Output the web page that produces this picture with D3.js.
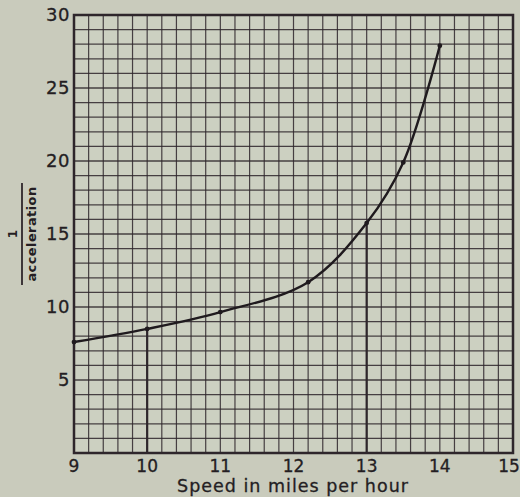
<!DOCTYPE html>
<html>
<head>
<meta charset="utf-8">
<script src="https://cdn.jsdelivr.net/npm/d3@7/dist/d3.min.js"></script>
<style>
  html, body { margin: 0; padding: 0; background: #c9cbbc; }
  svg { display: block; }
  text { font-family: "DejaVu Sans", sans-serif; fill: #241e23; }
</style>
</head>
<body>
<script>
// values
const speeds = [9, 10, 11, 12.2, 13, 13.5, 14];
const invAccel = [7.6, 8.5, 9.65, 11.7, 15.75, 19.9, 27.9];
const xTicks = [9, 10, 11, 12, 13, 14, 15];
const yTicks = [5, 10, 15, 20, 25, 30];
// speeds with a heavy drop line from the curve to the axis
const dropAt = [10, 13];

const width = 520;
const height = 497;
const margin = { top: 15, right: 7, bottom: 44, left: 74 };
const ink = '#2e262b';

const x = d3.scaleLinear().domain([9, 15]).range([margin.left, width - margin.right]);
const y = d3.scaleLinear().domain([0, 30]).range([height - margin.bottom, margin.top]);

const svg = d3.select('body').append('svg')
  .attr('width', width)
  .attr('height', height);

svg.append('rect')
  .attr('x', x(9)).attr('y', y(30))
  .attr('width', x(15) - x(9)).attr('height', y(0) - y(30))
  .attr('fill', '#ccd0c1');

// fine grid: 0.2 mph across, 1 unit up
const grid = svg.append('g').attr('stroke', ink).attr('stroke-opacity', 0.85);
grid.selectAll('.gx')
  .data(d3.range(1, 30).map(i => 9 + i * 0.2))
  .enter().append('line')
    .attr('x1', d => x(d)).attr('x2', d => x(d))
    .attr('y1', y(0)).attr('y2', y(30))
    .attr('stroke-width', 1.2);
grid.selectAll('.gy')
  .data(d3.range(1, 30))
  .enter().append('line')
    .attr('y1', d => y(d)).attr('y2', d => y(d))
    .attr('x1', x(9)).attr('x2', x(15))
    .attr('stroke-width', d => (d % 5 === 0 ? 1.7 : 1.2));

// drop lines
svg.selectAll('.drop')
  .data(dropAt)
  .enter().append('line')
    .attr('x1', d => x(d)).attr('x2', d => x(d))
    .attr('y1', d => y(invAccel[speeds.indexOf(d)]))
    .attr('y2', y(0))
    .attr('stroke', ink)
    .attr('stroke-width', 2.2);

// frame
svg.append('rect')
  .attr('x', x(9)).attr('y', y(30))
  .attr('width', x(15) - x(9)).attr('height', y(0) - y(30))
  .attr('fill', 'none')
  .attr('stroke', ink)
  .attr('stroke-width', 2.5);

const pts = speeds.map((s, i) => [s, invAccel[i]]);
const line = d3.line()
  .x(d => x(d[0]))
  .y(d => y(d[1]))
  .curve(d3.curveCatmullRom.alpha(0.5));

svg.append('path')
  .datum(pts)
  .attr('d', line)
  .attr('fill', 'none')
  .attr('stroke', '#1f1a1e')
  .attr('stroke-width', 2.4);

svg.selectAll('.pt')
  .data(pts)
  .enter().append('circle')
    .attr('cx', d => x(d[0]))
    .attr('cy', d => y(d[1]))
    .attr('r', 2.4)
    .attr('fill', '#1f1a1e');

// tick labels
svg.selectAll('.ytick')
  .data(yTicks)
  .enter().append('text')
    .attr('x', margin.left - 4)
    .attr('y', d => y(d))
    .attr('dy', '0.36em')
    .attr('text-anchor', 'end')
    .attr('font-size', 18)
    .attr('letter-spacing', 0.6)
    .attr('stroke', '#241e23')
    .attr('stroke-width', 0.3)
    .text(d => d);

svg.selectAll('.xtick')
  .data(xTicks)
  .enter().append('text')
    .attr('x', d => (d === 15 ? x(d) - 4 : x(d)))
    .attr('y', y(0) + 19)
    .attr('text-anchor', 'middle')
    .attr('font-size', 17)
    .attr('stroke', '#241e23')
    .attr('stroke-width', 0.3)
    .text(d => d);

svg.append('text')
  .attr('x', 293)
  .attr('y', 492)
  .attr('text-anchor', 'middle')
  .attr('font-size', 17.5)
  .attr('letter-spacing', 1)
  .attr('stroke', '#241e23')
  .attr('stroke-width', 0.3)
  .text('Speed in miles per hour');

// y label as a fraction, turned on its side
const yl = svg.append('g').attr('transform', 'translate(22,234) rotate(-90)');
yl.append('text')
  .attr('y', -5)
  .attr('text-anchor', 'middle')
  .attr('font-size', 12)
  .attr('font-weight', 'bold')
  .text('1');
yl.append('line')
  .attr('x1', -51).attr('x2', 51)
  .attr('y1', 0).attr('y2', 0)
  .attr('stroke', ink)
  .attr('stroke-width', 1.8);
yl.append('text')
  .attr('y', 14)
  .attr('text-anchor', 'middle')
  .attr('font-size', 13)
  .attr('font-weight', 'bold')
  .attr('letter-spacing', 0.4)
  .text('acceleration');
</script>
</body>
</html>
